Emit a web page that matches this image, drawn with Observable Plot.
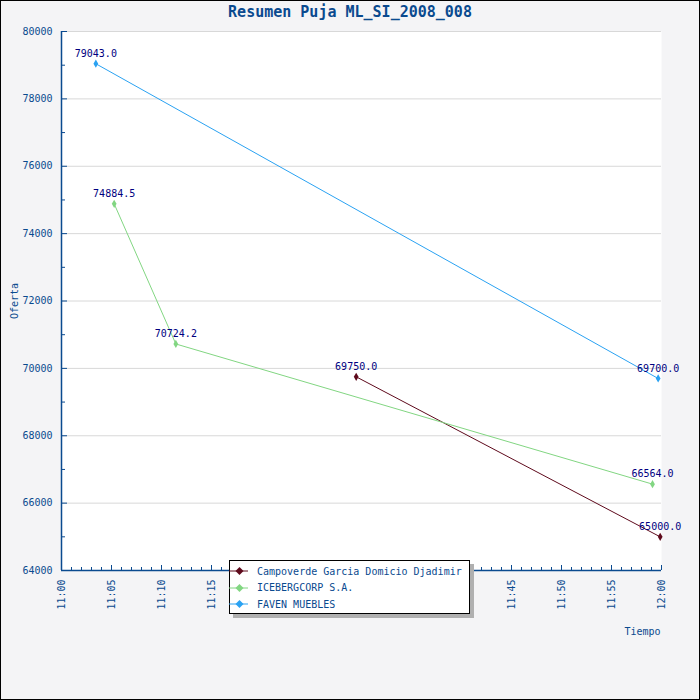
<!DOCTYPE html>
<html>
<head>
<meta charset="utf-8">
<script src="https://cdn.jsdelivr.net/npm/d3@7"></script>
<script src="https://cdn.jsdelivr.net/npm/@observablehq/plot@0.6"></script>
<style>
  html, body { margin: 0; padding: 0; background: #f4f4f6; }
  #wrap { position: relative; width: 700px; height: 700px; overflow: hidden; }
  #border { position: absolute; left: 0; top: 0; width: 700px; height: 700px; box-sizing: border-box; border: 1px solid #000; pointer-events: none; }
  #title { position: absolute; left: 0; top: 3px; width: 700px; text-align: center; font: bold 15px "DejaVu Sans Mono", monospace; line-height: 18px; color: #0a4a8f; }
  #legend { position: absolute; left: 229px; top: 560px; width: 241px; height: 54px; box-sizing: border-box; border: 1px solid #000; background: #fff; box-shadow: 4px 4px 0 #b0b0b0; font: 10px "DejaVu Sans Mono", monospace; color: #0a4a8f; }
  .row { position: absolute; left: -1px; height: 16px; display: flex; align-items: center; }
  .row svg { display: block; margin-right: 8px; }
</style>
</head>
<body>
<div id="wrap">
  <div id="chart"></div>
  <div id="title"></div>
  <div id="legend"></div>
  <div id="border"></div>
</div>
<script>
const titleText = "Resumen Puja ML_SI_2008_008";
const xLabel = "Tiempo";
const yLabel = "Oferta";
const seriesNames = ["Campoverde Garcia Domicio Djadimir", "ICEBERGCORP S.A.", "FAVEN MUEBLES"];
const seriesColors = ["#5e0a1c", "#82d682", "#2aa2f2"];

const campoTimes = ["11:29:28", "11:59:52"];
const campoValues = [69750.0, 65000.0];
const iceTimes = ["11:05:16", "11:11:26", "11:59:06"];
const iceValues = [74884.5, 70724.2, 66564.0];
const favenTimes = ["11:03:26", "11:59:40"];
const favenValues = [79043.0, 69700.0];

const yMajorTicks = [64000, 66000, 68000, 70000, 72000, 74000, 76000, 78000, 80000];
const yMinorTicks = [65000, 67000, 69000, 71000, 73000, 75000, 77000, 79000];
const xMajorTicks = ["11:00", "11:05", "11:10", "11:15", "11:20", "11:25", "11:30", "11:35", "11:40", "11:45", "11:50", "11:55", "12:00"];
const xStart = "11:00";
const xEnd = "12:00";

const t = s => new Date("2008-01-01T" + (s.length === 5 ? s + ":00" : s) + "Z");
const xMinorTicks = d3.utcMinute.range(t(xStart), d3.utcMinute.offset(t(xEnd), 1));

const data = [];
[[campoTimes, campoValues], [iceTimes, iceValues], [favenTimes, favenValues]].forEach(([ts, vs], i) => {
  ts.forEach((s, j) => data.push({name: seriesNames[i], time: t(s), value: vs[j]}));
});

const axisColor = "#0a4a8f";
const fmt = d3.utcFormat("%H:%M");

const chart = Plot.plot({
  width: 700,
  height: 700,
  marginLeft: 61,
  marginRight: 39,
  marginTop: 31,
  marginBottom: 130,
  style: {background: "#f4f4f6", fontFamily: "DejaVu Sans Mono", fontSize: "10px", color: axisColor, overflow: "visible"},
  x: {type: "utc", domain: [t(xStart), t(xEnd)]},
  y: {domain: [64000, 80000]},
  color: {domain: seriesNames, range: seriesColors},
  marks: [
    Plot.frame({fill: "white", stroke: null}),
    Plot.ruleY(yMajorTicks, {stroke: "#d8d8d8"}),
    Plot.axisY({ticks: yMajorTicks, tickSize: -6, tickPadding: 15, tickFormat: d => String(d), label: null, color: axisColor}),
    Plot.axisY({ticks: yMinorTicks, tickSize: -4, tickFormat: () => "", label: null, color: axisColor}),
    Plot.axisX({ticks: xMajorTicks.map(t), tickSize: -5, tickPadding: 14, tickRotate: -90, tickFormat: fmt, label: null, color: axisColor}),
    Plot.axisX({ticks: xMinorTicks, tickSize: -3, tickFormat: () => "", label: null, color: axisColor}),
    Plot.text([yLabel], {frameAnchor: "left", rotate: -90, dx: -46.5, textAnchor: "middle", lineAnchor: "middle", fill: axisColor, fontSize: 10}),
    Plot.text([xLabel], {frameAnchor: "bottom-right", dx: -1, dy: 61, textAnchor: "end", lineAnchor: "middle", fill: axisColor, fontSize: 10}),
    Plot.ruleX([t(xStart)], {stroke: axisColor, strokeWidth: 1.5}),
    Plot.ruleY([64000], {stroke: axisColor, strokeWidth: 1.5}),
    Plot.line(data, {x: "time", y: "value", z: "name", stroke: "name", strokeWidth: 1}),
    Plot.dot(data, {x: "time", y: "value", fill: "name", symbol: "diamond", r: 2.5}),
    Plot.text(data, {x: "time", y: "value", text: d => d.value.toFixed(1), dy: -10, fill: "#000080", fontSize: 10})
  ]
});
document.getElementById("chart").appendChild(chart);
document.getElementById("title").textContent = titleText;

const legend = document.getElementById("legend");
seriesNames.forEach((name, i) => {
  const row = document.createElement("div");
  row.className = "row";
  row.style.top = (2 + i * 16.5) + "px";
  const ns = "http://www.w3.org/2000/svg";
  const svg = document.createElementNS(ns, "svg");
  svg.setAttribute("width", 20);
  svg.setAttribute("height", 10);
  const ln = document.createElementNS(ns, "line");
  ln.setAttribute("x1", 0); ln.setAttribute("x2", 19); ln.setAttribute("y1", 5); ln.setAttribute("y2", 5);
  ln.setAttribute("stroke", seriesColors[i]);
  svg.appendChild(ln);
  const dm = document.createElementNS(ns, "path");
  dm.setAttribute("d", "M10.5,1 L14.5,5 L10.5,9 L6.5,5 Z");
  dm.setAttribute("fill", seriesColors[i]);
  svg.appendChild(dm);
  row.appendChild(svg);
  const span = document.createElement("span");
  span.textContent = name;
  row.appendChild(span);
  legend.appendChild(row);
});
</script>
</body>
</html>
